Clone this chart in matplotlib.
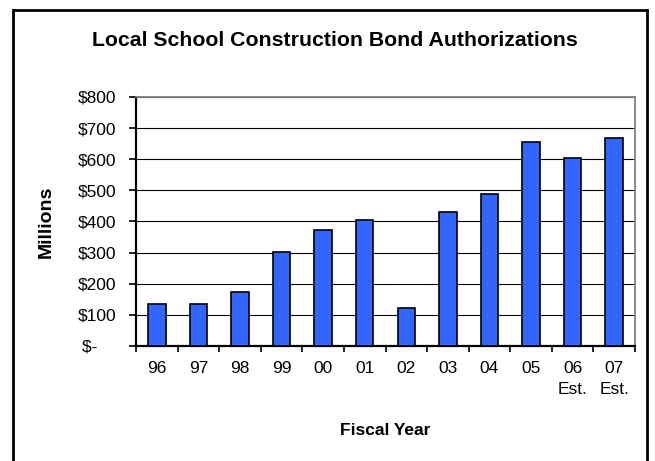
import matplotlib
matplotlib.use('Agg')
import matplotlib.pyplot as plt
from matplotlib.patches import Rectangle
from matplotlib.ticker import FixedLocator

plt.rcParams['font.family'] = ['Liberation Sans', 'DejaVu Sans']

years = ["96", "97", "98", "99", "00", "01", "02", "03", "04", "05", "06\nEst.", "07\nEst."]
authorizations = [134, 134, 173, 301, 372, 404, 121, 430, 488, 655, 603, 668]
y_ticks = [0, 100, 200, 300, 400, 500, 600, 700, 800]
y_tick_labels = ["$-    ", "$100", "$200", "$300", "$400", "$500", "$600", "$700", "$800"]

fig = plt.figure(figsize=(6.55, 4.61), dpi=100)
ax = fig.add_axes([0.2076, 0.2495, 0.7619, 0.5401])

# outer frame around the whole chart
fig.patches.append(Rectangle((0.0205, -0.05), 0.967, 1.028, transform=fig.transFigure,
                             fill=False, edgecolor="black", linewidth=2))

pos = list(range(len(years)))
ax.bar(pos, authorizations, width=0.42, color="#3366FF", edgecolor="black",
       linewidth=1.2, zorder=3)

ax.set_xlim(-0.5, len(years) - 0.5)
ax.set_ylim(0, 800)
ax.set_yticks(y_ticks)
ax.set_yticklabels(y_tick_labels, fontsize=12.5)
ax.grid(axis="y", color="black", linewidth=0.8, zorder=0)
ax.set_axisbelow(True)

ax.set_xticks(pos)
ax.set_xticklabels(years, fontsize=12.5, linespacing=1.45, va="top")
ax.xaxis.set_minor_locator(FixedLocator([p - 0.5 for p in pos] + [len(years) - 0.5]))
ax.tick_params(axis="x", which="major", length=0, pad=11)
ax.tick_params(axis="x", which="minor", direction="out", length=4, width=1.2)
ax.tick_params(axis="y", direction="out", length=5, width=1.2, pad=9)

ax.spines["left"].set_linewidth(1.6)
ax.spines["bottom"].set_linewidth(1.6)
ax.spines["top"].set_color("#808080")
ax.spines["right"].set_color("#808080")
ax.spines["top"].set_linewidth(1.3)
ax.spines["right"].set_linewidth(1.3)

ax.set_ylabel("Millions", fontsize=14, fontweight="bold")
ax.yaxis.set_label_coords(-0.162, 0.5)
ax.set_xlabel("Fiscal Year", fontsize=12.5, fontweight="bold")
ax.xaxis.set_label_coords(0.5, -0.309)

fig.text(0.511, 1 - 46 / 461, "Local School Construction Bond Authorizations",
         ha="center", va="baseline", fontsize=15.3, fontweight="bold")

fig.savefig("out.png", dpi=100)
